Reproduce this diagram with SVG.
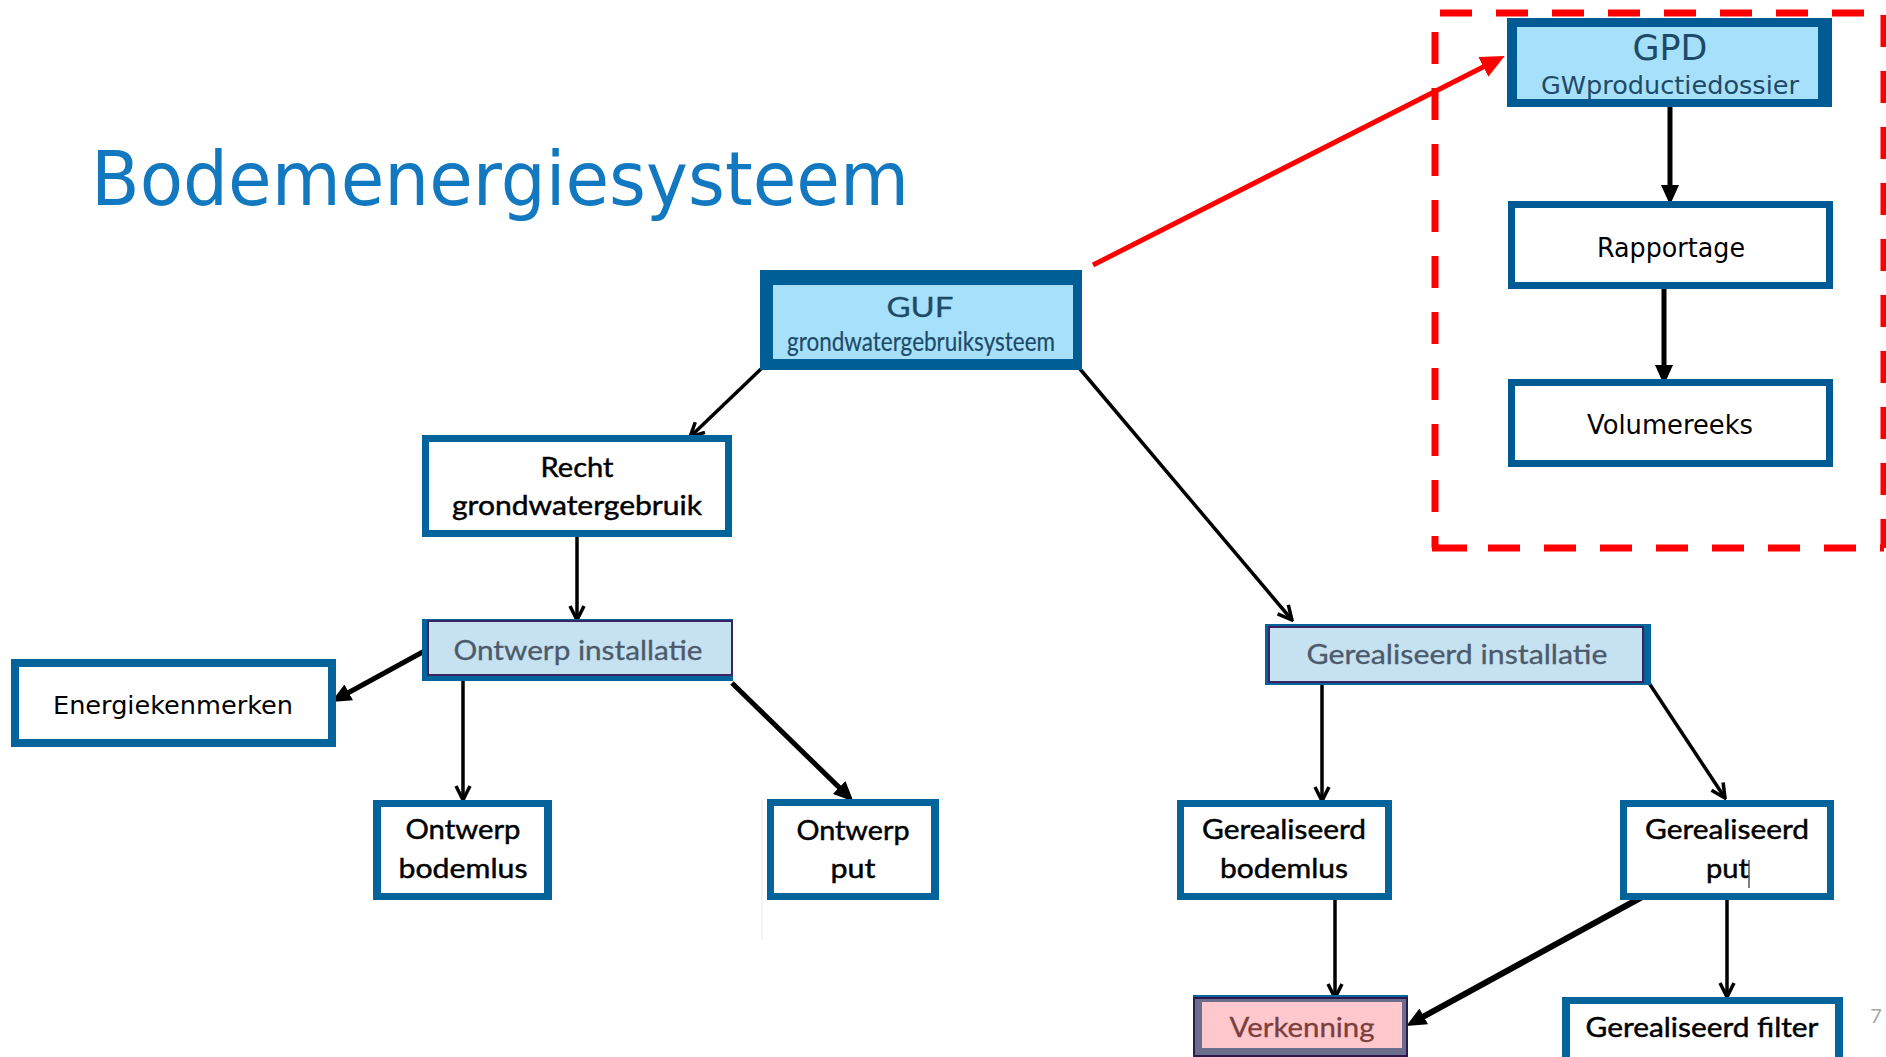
<svg xmlns="http://www.w3.org/2000/svg" width="1886" height="1057" viewBox="0 0 1886 1057">
<style>
.title{font-family:"DejaVu Sans","Verdana",sans-serif;font-size:75px;fill:#1278c0}
.dv{font-family:"DejaVu Sans","Verdana",sans-serif;fill:#000}
.cb{font-family:Lato,"Open Sans",sans-serif;font-size:27px;fill:#000;text-anchor:middle;stroke:#000;stroke-width:0.45}
.hd{fill:#1d4a67;text-anchor:middle}
.blue{fill:#02649a}
.gblue{fill:#005a94}
.white{fill:#fff}
.lightc{fill:#a7e0fa}
.inst{fill:#c6e1f0;stroke:#3b2260;stroke-width:2}
.thin{stroke:#000;stroke-width:3.5;fill:none;marker-end:url(#vopen)}
.thick{stroke:#000;fill:none;marker-end:url(#solid)}
</style>
<defs>
<marker id="vopen" viewBox="0 0 18 18" markerWidth="18" markerHeight="18" refX="16" refY="9" orient="auto" markerUnits="userSpaceOnUse">
<path d="M2,2 L16,9 L2,16" fill="none" stroke="#000" stroke-width="3.5" stroke-linejoin="miter"/>
</marker>
<marker id="solid" viewBox="0 0 20 18" markerWidth="20" markerHeight="18" refX="10" refY="9" orient="auto" markerUnits="userSpaceOnUse">
<path d="M0,0 L20,9 L0,18 Z" fill="#000"/>
</marker>
<marker id="redhead" viewBox="0 0 24 22" markerWidth="24" markerHeight="22" refX="12" refY="11" orient="auto" markerUnits="userSpaceOnUse">
<path d="M0,0 L24,11 L0,22 Z" fill="#ff0000"/>
</marker>
</defs>
<rect width="1886" height="1057" fill="#fff"/>
<text class="title" x="91" y="205" textLength="818" lengthAdjust="spacingAndGlyphs">Bodemenergiesysteem</text>
<g id="frame" stroke="#ff0000" stroke-width="7" fill="none">
<line x1="1440" y1="13" x2="1884" y2="13" stroke-dasharray="32 24"/>
<line x1="1435" y1="13" x2="1435" y2="548" stroke-dasharray="32 24" stroke-dashoffset="37"/>
<line x1="1432" y1="548" x2="1884" y2="548" stroke-dasharray="35 21 32 24 32 24 32 24 32 24 32 24 32 24 32 24 32 24"/>
<line x1="1884" y1="15" x2="1884" y2="548" stroke-dasharray="32 24"/>
</g>
<line x1="762" y1="800" x2="762" y2="940" stroke="#e3e9ef" stroke-width="1"/>
<g id="connectors">
<line x1="1093" y1="265" x2="1494" y2="61.5" stroke="#ff0000" stroke-width="5" marker-end="url(#redhead)"/>
<line class="thick" x1="1670" y1="107" x2="1670" y2="195" stroke-width="5"/>
<line class="thick" x1="1664" y1="289" x2="1664" y2="375" stroke-width="5"/>
<line class="thick" x1="430" y1="648" x2="340" y2="697.2" stroke-width="5"/>
<line class="thick" x1="732" y1="683" x2="846.3" y2="794.4" stroke-width="5"/>
<line class="thick" x1="1642" y1="897" x2="1415" y2="1021.2" stroke-width="6"/>
<line class="thin" x1="762" y1="368" x2="690" y2="437"/>
<line class="thin" x1="1080" y1="369" x2="1292" y2="620"/>
<line class="thin" x1="577" y1="537" x2="577" y2="620"/>
<line class="thin" x1="463" y1="681" x2="463" y2="800"/>
<line class="thin" x1="1322" y1="685" x2="1322" y2="801"/>
<line class="thin" x1="1647" y1="680" x2="1725" y2="798"/>
<line class="thin" x1="1335" y1="900" x2="1335" y2="998"/>
<line class="thin" x1="1727" y1="900" x2="1727" y2="997"/>
</g>
<g id="gpd">
<rect class="gblue" x="1507" y="18" width="325" height="89"/>
<rect class="lightc" x="1517" y="27" width="301" height="72"/>
<text class="dv hd" x="1670" y="60" font-size="35" textLength="75" lengthAdjust="spacingAndGlyphs">GPD</text>
<text class="dv hd" x="1670" y="94" font-size="25.5" textLength="258" lengthAdjust="spacingAndGlyphs">GWproductiedossier</text>
</g>
<g id="rapportage">
<rect class="gblue" x="1508" y="201" width="325" height="88"/>
<rect class="white" x="1515" y="208" width="311" height="74"/>
<text class="dv" x="1671" y="257" font-size="26" text-anchor="middle" textLength="148" lengthAdjust="spacingAndGlyphs">Rapportage</text>
</g>
<g id="volumereeks">
<rect class="gblue" x="1508" y="379" width="325" height="88"/>
<rect class="white" x="1515" y="386" width="311" height="74"/>
<text class="dv" x="1670" y="434" font-size="26" text-anchor="middle" textLength="166" lengthAdjust="spacingAndGlyphs">Volumereeks</text>
</g>
<g id="guf">
<rect x="760" y="270" width="322" height="100" fill="#005e97"/>
<rect class="lightc" x="773" y="285" width="300" height="74"/>
<text class="cb" x="920" y="317" font-size="32" style="fill:#1d4a67;stroke:#1d4a67;stroke-width:0.3" textLength="67" lengthAdjust="spacingAndGlyphs">GUF</text>
<text class="cb" x="921" y="351" font-size="19" style="fill:#1d4a67;stroke:#1d4a67;stroke-width:0.2" textLength="268" lengthAdjust="spacingAndGlyphs">grondwatergebruiksysteem</text>
</g>
<g id="recht">
<rect class="blue" x="422" y="435" width="310" height="102"/>
<rect class="white" x="429" y="442" width="296" height="88"/>
<text class="cb" x="577" y="477" textLength="73" lengthAdjust="spacingAndGlyphs">Recht</text>
<text class="cb" x="577" y="515" textLength="250" lengthAdjust="spacingAndGlyphs">grondwatergebruik</text>
</g>
<g id="ontwerp-installatie">
<rect class="blue" x="422" y="619" width="311" height="62"/>
<rect class="inst" x="428" y="621" width="304" height="54"/>
<text class="cb" x="578" y="660" style="fill:#4b5b6b;stroke:#4b5b6b;stroke-width:0.3" textLength="249" lengthAdjust="spacingAndGlyphs">Ontwerp installatie</text>
</g>
<g id="energiekenmerken">
<rect class="blue" x="11" y="659" width="325" height="88"/>
<rect class="white" x="19" y="667" width="309" height="72"/>
<text class="dv" x="173" y="714" font-size="25.5" text-anchor="middle" textLength="240" lengthAdjust="spacingAndGlyphs">Energiekenmerken</text>
</g>
<g id="ontwerp-bodemlus">
<rect class="blue" x="373" y="800" width="179" height="100"/>
<rect class="white" x="381" y="807" width="163" height="86"/>
<text class="cb" x="463" y="839" textLength="115" lengthAdjust="spacingAndGlyphs">Ontwerp</text>
<text class="cb" x="463" y="878" textLength="129" lengthAdjust="spacingAndGlyphs">bodemlus</text>
</g>
<g id="ontwerp-put">
<rect class="blue" x="767" y="799" width="172" height="101"/>
<rect class="white" x="774" y="806" width="157" height="87"/>
<text class="cb" x="853" y="840" textLength="113" lengthAdjust="spacingAndGlyphs">Ontwerp</text>
<text class="cb" x="853" y="878" textLength="45" lengthAdjust="spacingAndGlyphs">put</text>
</g>
<g id="gerealiseerd-installatie">
<rect class="blue" x="1265" y="624" width="386" height="61"/>
<rect class="inst" x="1269" y="627" width="374" height="55"/>
<text class="cb" x="1457" y="664" style="fill:#4b5b6b;stroke:#4b5b6b;stroke-width:0.3" textLength="301" lengthAdjust="spacingAndGlyphs">Gerealiseerd installatie</text>
</g>
<g id="gerealiseerd-bodemlus">
<rect class="blue" x="1177" y="800" width="215" height="100"/>
<rect class="white" x="1184" y="807" width="201" height="86"/>
<text class="cb" x="1284" y="839" textLength="164" lengthAdjust="spacingAndGlyphs">Gerealiseerd</text>
<text class="cb" x="1284" y="878" textLength="128" lengthAdjust="spacingAndGlyphs">bodemlus</text>
</g>
<g id="gerealiseerd-put">
<rect class="blue" x="1620" y="800" width="214" height="100"/>
<rect class="white" x="1627" y="807" width="200" height="86"/>
<text class="cb" x="1727" y="839" textLength="164" lengthAdjust="spacingAndGlyphs">Gerealiseerd</text>
<text class="cb" x="1727.5" y="878" textLength="43" lengthAdjust="spacingAndGlyphs">put</text>
<line x1="1749" y1="860" x2="1749" y2="888" stroke="#000" stroke-width="1"/>
</g>
<g id="verkenning">
<rect class="blue" x="1193" y="995" width="215" height="4"/>
<rect x="1194" y="998" width="213" height="58" fill="#6b6d8c" stroke="#2e1a4a" stroke-width="2"/>
<rect x="1202" y="1002" width="200" height="46" fill="#ffc8cc"/>
<text class="cb" x="1302" y="1037" style="fill:#7b3f3f;stroke:#7b3f3f;stroke-width:0.3" textLength="145" lengthAdjust="spacingAndGlyphs">Verkenning</text>
</g>
<g id="gerealiseerd-filter">
<rect class="blue" x="1562" y="997" width="281" height="60"/>
<rect class="white" x="1570" y="1004" width="265" height="53"/>
<text class="cb" x="1702" y="1037" textLength="233" lengthAdjust="spacingAndGlyphs">Gerealiseerd filter</text>
</g>
<text x="1876" y="1023" font-family="Lato,sans-serif" font-size="20" fill="#a6a6a6" text-anchor="middle">7</text>
</svg>
